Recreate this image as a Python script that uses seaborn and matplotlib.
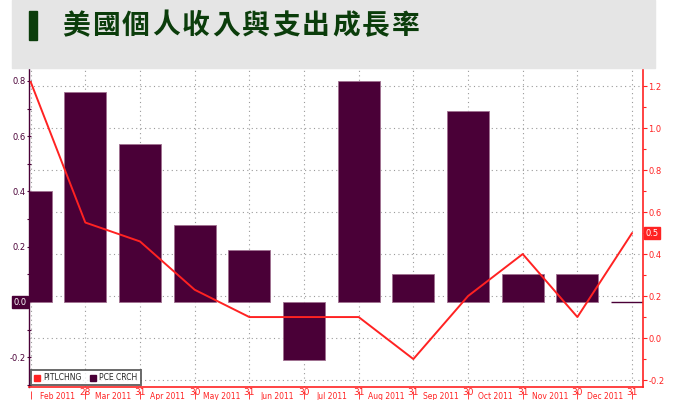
import numpy as np
import matplotlib
matplotlib.use("Agg")
import matplotlib.pyplot as plt
from matplotlib.patches import Rectangle, Patch
from matplotlib.ticker import MultipleLocator, FormatStrFormatter
import seaborn as sns

# data (month-end readings, 2011)
month_end = ["Jan 31", "Feb 28", "Mar 31", "Apr 30", "May 31", "Jun 30",
             "Jul 31", "Aug 31", "Sep 30", "Oct 31", "Nov 30", "Dec 31"]
day_labels = ["", "28", "31", "30", "31", "30", "31", "31", "30", "31", "30", "31"]
month_labels = ["Feb 2011", "Mar 2011", "Apr 2011", "May 2011", "Jun 2011", "Jul 2011",
                "Aug 2011", "Sep 2011", "Oct 2011", "Nov 2011", "Dec 2011"]
pce_crch = [0.40, 0.76, 0.57, 0.28, 0.19, -0.21, 0.80, 0.10, 0.69, 0.10, 0.10, 0.0]
pitlchng = [1.22, 0.55, 0.46, 0.23, 0.10, 0.10, 0.10, -0.10, 0.20, 0.40, 0.10, 0.50]

PURPLE = "#4a0037"
RED = "#ff2222"
GREEN = "#0b3d0b"

sns.set_style("ticks")
plt.rcParams["font.family"] = ["DejaVu Sans", "Noto Sans CJK TC"]

fig = plt.figure(figsize=(6.76, 4), dpi=100)

# header band
fig.patches.append(Rectangle((12 / 676, 1 - 68 / 400), 643 / 676, 68 / 400,
                             transform=fig.transFigure, color="#e5e5e5", zorder=0))
fig.patches.append(Rectangle((29 / 676, 1 - 40 / 400), 8 / 676, 29 / 400,
                             transform=fig.transFigure, color=GREEN, zorder=1))
title = "美國個人收入與支出成長率"
for i, ch in enumerate(title):
    fig.text((62 + i * 30) / 676, 1 - 26 / 400, ch, fontsize=20, fontweight="bold",
             color=GREEN, va="center", ha="left", family=["Noto Sans CJK TC", "DejaVu Sans"])

pos = [29 / 676, 13 / 400, 614 / 676, 318 / 400]
xlim = (-0.03, 11.2)
ylim_l = (-0.307, 0.843)
ylim_r = (-0.233, 1.281)

# background grid (aligned with right axis)
axg = fig.add_axes(pos)
axg.set_xlim(xlim)
axg.set_ylim(ylim_r)
axg.set_xticks(range(len(month_end)))
axg.set_yticks(np.arange(-0.2, 1.3, 0.2))
axg.grid(True, linestyle=(0, (1, 3)), color="#9a9a9a", linewidth=0.8)
axg.tick_params(length=0, labelleft=False, labelbottom=False)
for s in axg.spines.values():
    s.set_visible(False)

# bars on left axis
ax = fig.add_axes(pos)
ax.patch.set_alpha(0)
sns.barplot(x=month_end, y=pce_crch, color=PURPLE, saturation=1, width=0.77,
            edgecolor="#a07090", linewidth=0.6, ax=ax)
ax.patches[-1].set_edgecolor(PURPLE)
ax.patches[-1].set_linewidth(1.0)
ax.set_xlim(xlim)
ax.set_ylim(ylim_l)
ax.set_xlabel("")
ax.set_ylabel("")
ax.set_xticks(range(len(month_end)))
ax.set_xticklabels(day_labels)
ax.yaxis.set_major_locator(MultipleLocator(0.2))
ax.yaxis.set_minor_locator(MultipleLocator(0.1))
ax.yaxis.set_major_formatter(FormatStrFormatter("%.1f"))
ax.tick_params(axis="y", which="both", colors=PURPLE, labelsize=6, direction="inout",
               length=3, width=0.8, pad=1)
ax.tick_params(axis="x", colors=RED, labelsize=6.5, length=0, pad=0.5)
ax.spines["left"].set_color(PURPLE)
ax.spines["left"].set_linewidth(1.0)
ax.spines["bottom"].set_color(RED)
ax.spines["bottom"].set_linewidth(1.2)
ax.spines["top"].set_visible(False)
ax.spines["right"].set_visible(False)
ax.text(-0.004, 0.0, "0.0", transform=ax.get_yaxis_transform(), ha="right", va="center",
        fontsize=6, color="white",
        bbox=dict(boxstyle="square,pad=0.15", fc=PURPLE, ec=PURPLE))

# month labels below the day numbers
sec = ax.secondary_xaxis(-0.013)
sec.set_xticks(range(len(month_end)))
sec.set_xticklabels([])
sec.set_xticks(np.arange(len(month_labels)) + 0.5, minor=True)
sec.set_xticklabels(month_labels, minor=True)
sec.tick_params(which="major", colors=RED, length=6, width=0.6, labelsize=0)
sec.tick_params(which="minor", colors=RED, length=0, labelsize=5.5, pad=0.5)
sec.spines["bottom"].set_visible(False)

# income line on right axis
axr = ax.twinx()
sns.lineplot(x=np.arange(len(pitlchng)), y=pitlchng, color=RED, linewidth=1.4, ax=axr)
axr.set_xlim(xlim)
axr.set_ylim(ylim_r)
axr.set_ylabel("")
axr.yaxis.set_major_locator(MultipleLocator(0.2))
axr.yaxis.set_minor_locator(MultipleLocator(0.1))
axr.yaxis.set_major_formatter(FormatStrFormatter("%.1f"))
axr.tick_params(axis="y", which="both", colors=RED, labelsize=6, length=3, width=0.8, pad=1)
axr.tick_params(axis="y", which="minor", length=2)
for side in ["left", "top", "bottom"]:
    axr.spines[side].set_visible(False)
axr.spines["right"].set_color(RED)
axr.spines["right"].set_linewidth(1.2)
axr.text(1.004, pitlchng[-1], "0.5", transform=axr.get_yaxis_transform(), ha="left",
         va="center", fontsize=6, color="white",
         bbox=dict(boxstyle="square,pad=0.15", fc=RED, ec=RED))

handles = [Patch(color=RED, label="PITLCHNG"), Patch(color=PURPLE, label="PCE CRCH")]
leg = axr.legend(handles=handles, loc="lower left", bbox_to_anchor=(0, 0), ncol=2,
                 fontsize=5.5, frameon=True, fancybox=False, handlelength=0.8,
                 handleheight=0.9, handletextpad=0.4, columnspacing=1.2,
                 borderpad=0.4, borderaxespad=0.2)
leg.get_frame().set_edgecolor("#444444")
leg.get_frame().set_linewidth(1.4)

fig.savefig("out.png", dpi=100)
